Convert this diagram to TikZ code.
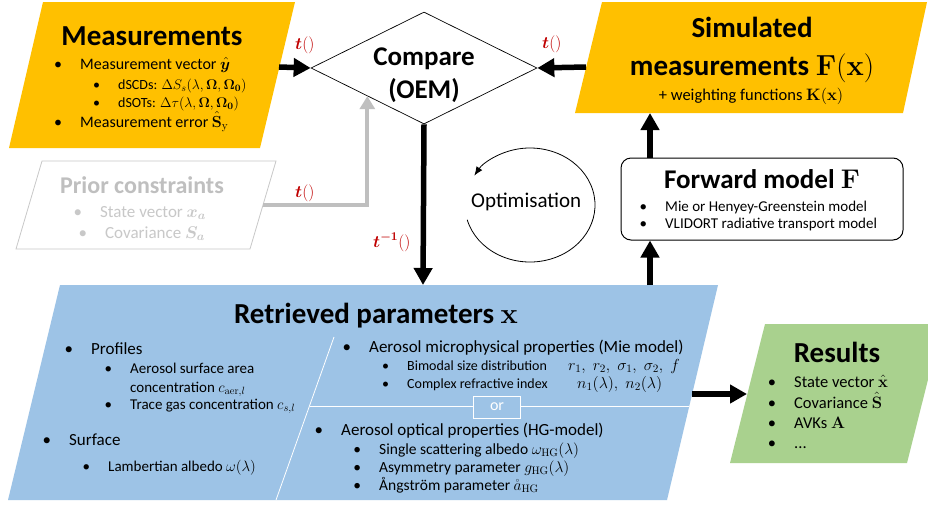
\RequirePackage{fix-cm}
\documentclass[tikz,border=0pt]{standalone}
\usepackage{amsmath,amssymb,bm}
\usepackage[no-math]{fontspec}
\setmainfont{Carlito}
\usetikzlibrary{arrows.meta,positioning,calc,shapes.geometric}

\definecolor{measorange}{HTML}{FFC000}
\definecolor{paramblue}{HTML}{9DC3E6}
\definecolor{resgreen}{HTML}{A9D18E}
\definecolor{tred}{HTML}{C00000}
\definecolor{priorgray}{HTML}{BFBFBF}
\definecolor{priortext}{HTML}{C8C8C8}

\newcommand{\blt}[1][18pt]{\llap{\textbullet\hspace{#1}}}
\newcommand{\fs}[1]{\fontsize{#1}{#1}\selectfont}

\begin{document}
\begin{tikzpicture}[x=1pt, y=-1pt,
        flow/.style={line width=5.5pt,-{Triangle[length=17pt,width=18pt]}},
        priorflow/.style={line width=4pt,draw=priorgray,-{Triangle[length=13pt,width=15pt]}},
        title/.style={anchor=base,inner sep=0pt,font=\fs{29}\bfseries},
        item/.style={anchor=base west,inner sep=0pt,font=\fs{17}},
        subitem/.style={anchor=base west,inner sep=0pt,font=\fs{15}},
        tlab/.style={anchor=base west,inner sep=0pt,text=tred,font=\fs{17}}]
        \fill[white] (0,0) rectangle (928,504);
        \useasboundingbox (0,0) rectangle (928,504);

        % measurements
        \fill[measorange] (43,2) -- (295,2) -- (260,148) -- (9,148) -- cycle;
        \coordinate (meas-e) at (279,67);
        \node[title] at (152,45) (meas) {Measurements};
        \node[item,font=\fs{16}] at (80,69) (m1) {\blt Measurement vector $\hat{\boldsymbol{y}}$};
        \node[subitem,font=\fs{14}] at (118,89) (m2) {\blt dSCDs: $\Delta S_s(\lambda,\boldsymbol{\Omega},\boldsymbol{\Omega}_{\boldsymbol{0}})$};
        \node[subitem,font=\fs{14}] at (118,107) (m3) {\blt dSOTs: $\Delta\tau(\lambda,\boldsymbol{\Omega},\boldsymbol{\Omega}_{\boldsymbol{0}})$};
        \node[item,font=\fs{16}] at (80,127) (m4) {\blt Measurement error $\hat{\mathbf{S}}_{\mathrm{y}}$};

        % prior constraints
        \draw[priortext,line width=0.8pt] (42,161) -- (276,161) -- (250,249) -- (16,249) -- cycle;
        \coordinate (prior-e) at (263,205);
        \node[title,font=\fs{24}\bfseries,text=priorgray] at (142,193) (prior) {Prior constraints};
        \node[item,font=\fs{17},text=priortext] at (100,217) (p1) {\blt State vector $\boldsymbol{x_a}$};
        \node[item,font=\fs{17},text=priortext] at (105,238) (p2) {\blt Covariance $\boldsymbol{S_a}$};

        % compare
        \node[diamond,draw,line width=0.7pt,minimum width=226pt,minimum height=112pt,inner sep=0pt] at (424,68) (cmp) {};
        \node[title,font=\fs{27}\bfseries] at (424,65) (cmp-a) {Compare};
        \node[title,font=\fs{27}\bfseries] at (424,98) (cmp-b) {(OEM)};

        % simulated measurements
        \fill[measorange] (602,2) -- (927,2) -- (903,113) -- (575,113) -- cycle;
        \coordinate (sim-w) at (586,67);
        \coordinate (sim-s) at (650,113);
        \node[title] at (752,37) (sim-a) {Simulated};
        \node[title] at (752,75) (sim-b) {measurements $\mathbf{F}(\mathbf{x})$};
        \node[title,font=\fs{16.5}] at (751,100) (sim-c) {+ weighting functions $\mathbf{K}(\mathbf{x})$};

        % forward model
        \node[draw,rounded corners=10pt,line width=1pt,minimum width=282pt,minimum height=82pt] at (762,199) (fwd) {};
        \node[title,font=\fs{27}\bfseries] at (762,188) (fwd-t) {Forward model $\mathbf{F}$};
        \node[item,font=\fs{15}] at (665,211) (f1) {\blt Mie or Henyey-Greenstein model};
        \node[item,font=\fs{15}] at (665,228) (f2) {\blt VLIDORT radiative transport model};

        % optimisation loop
        \node[anchor=base west,inner sep=0pt,font=\fs{21}] at (471,207) (opt) {Optimisation};
        \coordinate (loop) at (530,205);
        \draw[line width=0.8pt,-{Latex[length=9pt,width=7pt]}] (loop) ++(195:65pt and 57pt)
            arc[start angle=195,end angle=509,x radius=65pt,y radius=57pt];

        % retrieved parameters
        \fill[paramblue] (60,285) -- (718,285) -- (667,500) -- (8,500) -- cycle;
        \coordinate (ret-n) at (423,285);
        \coordinate (ret-n2) at (650,285);
        \coordinate (ret-e) at (692,394);
        \draw[white,line width=0.8pt] (334,337) -- (276,500);
        \draw[white,line width=0.8pt] (310,406) -- (689,406);
        \node[draw=white,fill=paramblue,line width=0.8pt,minimum width=47pt,minimum height=22pt,
            text=white,font=\fs{16}] at (497,407) (or) {or};
        \node[title] at (376,323) (ret) {Retrieved parameters $\mathbf{x}$};
        \node[item] at (91,354) (r1) {\blt Profiles};
        \node[subitem] at (130,373) (r2) {\blt Aerosol surface area};
        \node[subitem] at (130,392) (r3) {concentration $c_{\mathrm{aer},l}$};
        \node[subitem] at (130,409) (r4) {\blt Trace gas concentration $c_{s,l}$};
        \node[item] at (69,445) (r5) {\blt Surface};
        \node[subitem] at (108,471) (r6) {\blt Lambertian albedo $\omega(\lambda)$};
        \node[item] at (369,352) (r7) {\blt Aerosol microphysical properties (Mie model)};
        \node[subitem,font=\fs{14}] at (407,370) (r8) {\blt Bimodal size distribution};
        \node[subitem,font=\fs{16}] at (568,370) (r8m) {$r_1,\; r_2,\; \sigma_1,\; \sigma_2,\; f$};
        \node[subitem,font=\fs{14}] at (407,388) (r9) {\blt Complex refractive index};
        \node[subitem,font=\fs{16}] at (577,388) (r9m) {$n_1(\lambda),\; n_2(\lambda)$};
        \node[item] at (341,435) (r10) {\blt Aerosol optical properties (HG-model)};
        \node[subitem,font=\fs{15.5}] at (379,454) (r11) {\blt Single scattering albedo $\omega_{\mathrm{HG}}(\lambda)$};
        \node[subitem,font=\fs{15.5}] at (379,472) (r12) {\blt Asymmetry parameter $g_{\mathrm{HG}}(\lambda)$};
        \node[subitem,font=\fs{15.5}] at (379,490) (r13) {\blt Ångström parameter $\mathring{a}_{\mathrm{HG}}$};

        % results
        \fill[resgreen] (765,324) -- (942,324) -- (907,463) -- (730,463) -- cycle;
        \coordinate (res-w) at (747,394);
        \node[title,font=\fs{29}\bfseries] at (837,362) (res) {Results};
        \node[item,font=\fs{16.5}] at (794,387) (s1) {\blt State vector $\hat{\mathbf{x}}$};
        \node[item,font=\fs{16.5}] at (794,408) (s2) {\blt Covariance $\hat{\mathbf{S}}$};
        \node[item,font=\fs{16.5}] at (794,428) (s3) {\blt AVKs $\mathbf{A}$};
        \node[item,font=\fs{16.5}] at (794,448) (s4) {\blt ...};

        % connectors
        \draw[flow] (meas-e) to (cmp.west);
        \draw[flow] (sim-w) to (cmp.east);
        \draw[priorflow] (prior-e) -| (cmp.south west);
        \draw[flow] (cmp.south) to (ret-n);
        \draw[flow] (ret-n2) to (ret-n2 |- fwd.south);
        \draw[flow] (fwd.north -| sim-s) to (sim-s);
        \draw[flow] (ret-e) to (res-w);
        \node[tlab] at (295,49) (t1) {$\boldsymbol{t}()$};
        \node[tlab] at (542,48) (t2) {$\boldsymbol{t}()$};
        \node[tlab] at (295,197) (t3) {$\boldsymbol{t}()$};
        \node[tlab] at (373,247) (t4) {$\boldsymbol{t^{-1}}()$};
      \end{tikzpicture}
\end{document}
